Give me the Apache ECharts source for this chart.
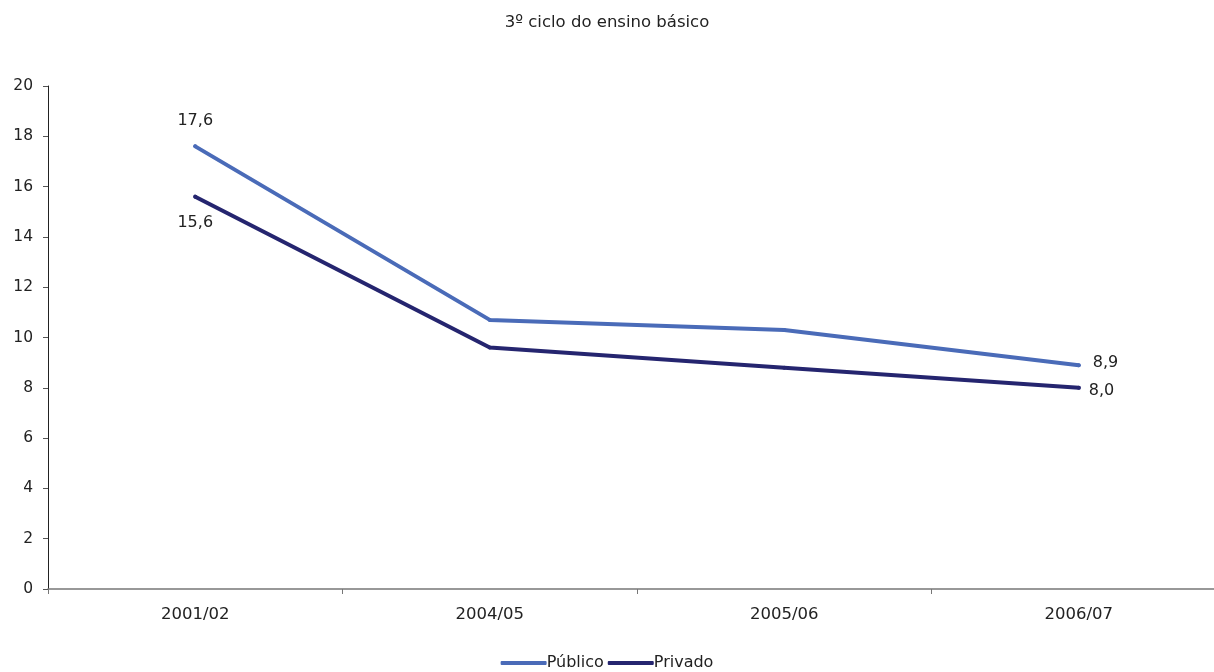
<!DOCTYPE html>
<html><head><meta charset="utf-8">
<script src="https://cdn.jsdelivr.net/npm/echarts@6/dist/echarts.min.js"></script>
<style>html,body{margin:0;padding:0;background:#fff}#c{width:1214px;height:672px}</style>
</head><body><div id="c"></div>
<script>
var categories = ['2001/02', '2004/05', '2005/06', '2006/07'];
var publico = [17.6, 10.7, 10.3, 8.9];
var privado = [15.6, 9.6, 8.8, 8.0];
var yTicks = [0, 2, 4, 6, 8, 10, 12, 14, 16, 18, 20];

var font = 'DejaVu Sans';
function fmt(v){ return v.toFixed(1).replace('.', ','); }
function mk(vals, pos, lastOffset){
  return vals.map(function(v, i){
    var last = i === vals.length - 1, first = i === 0;
    return {value: v, label: {show: first || last, position: last ? 'right' : pos, distance: last ? 12 : 16,
      offset: last ? lastOffset : [0, 0],
      formatter: function(p){ return fmt(p.value); }}};
  });
}
var chart = echarts.init(document.getElementById('c'));
chart.setOption({
  animation: false,
  title: {text: '3º ciclo do ensino básico', left: 'center', top: 9,
    textStyle: {fontFamily: font, fontSize: 16.5, fontWeight: 'normal', color: '#222'}},
  legend: {bottom: -4, left: 'center', itemWidth: 46, itemHeight: 4, itemGap: 4,
    icon: 'roundRect',
    textStyle: {fontFamily: font, fontSize: 16, color: '#222', padding: [0,0,0,-5]},
    data: ['Público', 'Privado']},
  grid: {left: 48, width: 1178, top: 86, bottom: 83, containLabel: false, outerBoundsMode: 'none'},
  xAxis: {type: 'category', data: categories, boundaryGap: true,
    axisLine: {lineStyle: {color: '#777', width: 1.5}},
    axisTick: {show: true, length: 5, lineStyle: {color: '#777'}},
    axisLabel: {fontFamily: font, fontSize: 16.5, color: '#222', margin: 17}},
  yAxis: {type: 'value', min: yTicks[0], max: yTicks[yTicks.length-1], interval: 2,
    axisLine: {show: true, lineStyle: {color: '#222'}},
    axisTick: {show: true, length: 5, lineStyle: {color: '#555'}},
    splitLine: {show: false},
    axisLabel: {fontFamily: font, fontSize: 15.5, color: '#222', margin: 15}},
  series: [
    {name: 'Público', type: 'line', data: mk(publico, 'top', [0, -2]), symbol: 'circle', showSymbol: true, symbolSize: 4,
      lineStyle: {color: '#4A6BB8', width: 4, cap: 'round'}, itemStyle: {color: '#4A6BB8', borderWidth: 0},
      label: {fontFamily: font, fontSize: 16, color: '#222'}},
    {name: 'Privado', type: 'line', data: mk(privado, 'bottom', [-4, 3]), symbol: 'circle', showSymbol: true, symbolSize: 4,
      lineStyle: {color: '#25256F', width: 4, cap: 'round'}, itemStyle: {color: '#25256F', borderWidth: 0},
      label: {fontFamily: font, fontSize: 16, color: '#222'}}
  ]
});
</script></body></html>
